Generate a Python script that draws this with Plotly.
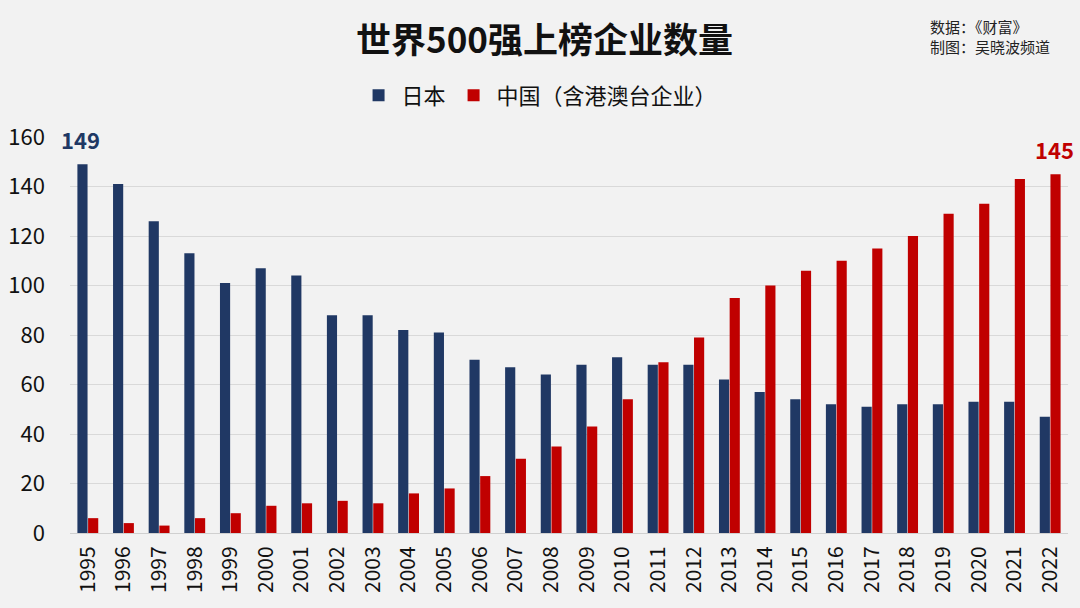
import plotly.graph_objects as go

years = [str(y) for y in range(1995, 2023)]
japan = [149, 141, 126, 113, 101, 107, 104, 88, 88, 82, 81, 70, 67, 64, 68, 71, 68, 68, 62, 57, 54, 52, 51, 52, 52, 53, 53, 47]
china = [6, 4, 3, 6, 8, 11, 12, 13, 12, 16, 18, 23, 30, 35, 43, 54, 69, 79, 95, 100, 106, 110, 115, 120, 129, 133, 143, 145]
y_ticks = [0, 20, 40, 60, 80, 100, 120, 140, 160]

NAVY = "#203864"
RED = "#C00000"
FONT = "Noto Sans CJK SC"

fig = go.Figure()
fig.add_trace(go.Bar(x=years, y=japan, name="日本", marker=dict(color=NAVY, line=dict(width=0))))
fig.add_trace(go.Bar(x=years, y=china, name="中国（含港澳台企业）", marker=dict(color=RED, line=dict(width=0))))

fig.add_annotation(x=0, y=japan[0], text="<b>149</b>", showarrow=False, yshift=25, xshift=-7,
                   font=dict(family=FONT, size=22, color=NAVY))
fig.add_annotation(x=len(years) - 1, y=china[-1], text="<b>145</b>", showarrow=False, yshift=25, xshift=4,
                   font=dict(family=FONT, size=22, color=RED))

fig.add_annotation(xref="paper", yref="paper", x=0.475, y=1.0, yanchor="middle", yshift=100,
                   text="<b>世界500强上榜企业数量</b>", showarrow=False,
                   font=dict(family=FONT, size=35, color="#111111"))
fig.add_annotation(xref="paper", yref="paper", x=0.86, xanchor="left", y=1.0, yanchor="middle", yshift=101,
                   text="数据：《财富》<br>制图：吴晓波频道", showarrow=False, align="left",
                   font=dict(family=FONT, size=15, color="#222222"))

fig.update_layout(
    width=1080, height=608,
    paper_bgcolor="#F2F2F2", plot_bgcolor="#F2F2F2",
    margin=dict(l=70, r=12, t=137, b=75),
    barmode="group", bargap=0.4, bargroupgap=0.05,
    font=dict(family=FONT, size=20, color="#111111"),
    legend=dict(orientation="h", x=0.47, xanchor="center", y=1.105, yanchor="middle", yref="paper",
                font=dict(family=FONT, size=22, color="#111111"), itemwidth=36,
                bgcolor="rgba(0,0,0,0)", traceorder="normal"),
    showlegend=True,
)
fig.update_xaxes(type="category", range=[-0.5, len(years) - 0.5], tickangle=-90, automargin=False,
                 tickfont=dict(size=21, family=FONT), showgrid=False, ticklabelstandoff=4,
                 showline=True, linecolor="#D0D0D0", linewidth=1, ticks="")
fig.update_yaxes(range=[0, 160], tickvals=y_ticks, tickfont=dict(size=22, family=FONT), automargin=False,
                 gridcolor="#D9D9D9", gridwidth=1, zeroline=False, ticks="", ticklabelstandoff=24)

fig.write_html("out.html", config={"displayModeBar": False},
               post_script="document.body.style.margin='0';document.body.style.overflow='hidden';")
